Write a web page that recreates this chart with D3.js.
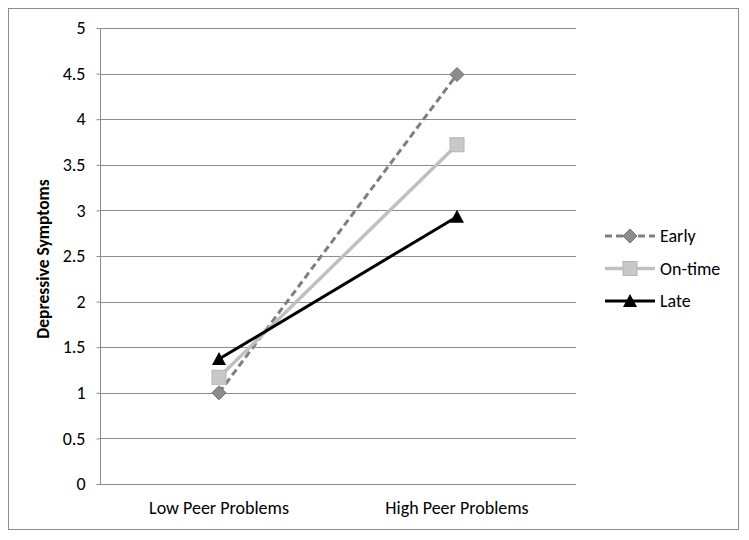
<!DOCTYPE html>
<html>
<head>
<meta charset="utf-8">
<script src="https://cdn.jsdelivr.net/npm/d3@7"></script>
<style>
  body { margin: 0; background: #fff; }
  text { font-family: Carlito, Lato, "Open Sans", sans-serif; fill: #000; }
</style>
</head>
<body>
<svg id="chart" width="749" height="540"></svg>
<script>
// Data
const categories = ['Low Peer Problems', 'High Peer Problems'];
const seriesNames = ['Early', 'On-time', 'Late'];
const early = [1.0, 4.49];
const onTime = [1.17, 3.72];
const late = [1.37, 2.93];
const yTicks = [0, 0.5, 1, 1.5, 2, 2.5, 3, 3.5, 4, 4.5, 5];

const seriesValues = [early, onTime, late];
const styles = [
    {color: '#7f7f7f', width: 3, dash: '7,4', marker: 'diamond'},
    {color: '#c0c0c0', width: 3.5, dash: null, marker: 'square'},
    {color: '#000000', width: 3, dash: null, marker: 'triangle'}
];

const svg = d3.select('#chart');

// outer frame
svg.append('rect')
    .attr('x', 8.5).attr('y', 8.5)
    .attr('width', 730).attr('height', 521)
    .attr('fill', 'none')
    .attr('stroke', '#8c8c8c')
    .attr('stroke-width', 1);

const plotLeft = 100, plotRight = 576, plotTop = 28, plotBottom = 484;

const x = d3.scaleBand()
    .domain(categories)
    .range([plotLeft, plotRight]);

const y = d3.scaleLinear()
    .domain([0, 5])
    .range([plotBottom, plotTop]);

// gridlines
svg.append('g')
    .selectAll('line')
    .data(yTicks.filter(t => t > 0))
    .enter()
    .append('line')
    .attr('x1', plotLeft).attr('x2', plotRight)
    .attr('y1', d => Math.round(y(d)) + 0.5)
    .attr('y2', d => Math.round(y(d)) + 0.5)
    .attr('stroke', '#8c8c8c')
    .attr('stroke-width', 1);

// y axis
const yAxis = svg.append('g')
    .attr('transform', `translate(${plotLeft + 0.5},0)`)
    .call(d3.axisLeft(y).tickValues(yTicks).tickSize(4).tickPadding(11).tickFormat(d => d));
yAxis.selectAll('path, line').attr('stroke', '#8c8c8c');
yAxis.select('path').attr('d', `M0,${plotBottom + 0.5}V${plotTop}`);
yAxis.selectAll('text').style('font-size', '18px');

// x axis
const xAxis = svg.append('g')
    .attr('transform', `translate(0,${plotBottom + 0.5})`)
    .call(d3.axisBottom(x).tickSize(0).tickPadding(17));
xAxis.select('path').attr('stroke', '#8c8c8c').attr('d', `M${plotLeft},0H${plotRight}`);
xAxis.selectAll('text').style('font-size', '18px');

// y axis title
svg.append('text')
    .attr('transform', `translate(49,${(plotTop + plotBottom) / 2 + 3}) rotate(-90)`)
    .attr('text-anchor', 'middle')
    .style('font-size', '17.5px')
    .style('font-weight', 'bold')
    .text('Depressive Symptoms');

const line = d3.line()
    .x((d, i) => x(categories[i]) + x.bandwidth() / 2)
    .y(d => y(d));

function drawMarker(g, type, cx, cy) {
    if (type === 'diamond') {
        g.append('path').attr('d', `M${cx},${cy - 7}L${cx + 7},${cy}L${cx},${cy + 7}L${cx - 7},${cy}Z`)
            .attr('fill', '#8c8c8c').attr('stroke', '#6e6e6e');
    } else if (type === 'square') {
        g.append('rect').attr('x', cx - 7).attr('y', cy - 7).attr('width', 14).attr('height', 14)
            .attr('fill', '#c8c8c8').attr('stroke', '#b4b4b4');
    } else {
        g.append('path').attr('d', `M${cx},${cy - 7}L${cx + 7},${cy + 6}L${cx - 7},${cy + 6}Z`)
            .attr('fill', '#000');
    }
}

// series lines and markers
seriesValues.forEach((vals, s) => {
    const st = styles[s];
    const g = svg.append('g');
    g.append('path')
        .datum(vals)
        .attr('d', line)
        .attr('fill', 'none')
        .attr('stroke', st.color)
        .attr('stroke-width', st.width)
        .attr('stroke-dasharray', st.dash);
    vals.forEach((v, i) => {
        drawMarker(g, st.marker, x(categories[i]) + x.bandwidth() / 2, y(v));
    });
});

// legend
const legend = svg.append('g').attr('transform', 'translate(605,236)');
seriesNames.forEach((name, s) => {
    const st = styles[s];
    const ly = s * 32.5;
    const lg = legend.append('g');
    lg.append('line')
        .attr('x1', 0).attr('x2', 50)
        .attr('y1', ly).attr('y2', ly)
        .attr('stroke', st.color)
        .attr('stroke-width', st.width)
        .attr('stroke-dasharray', st.dash);
    drawMarker(lg, st.marker, 25, ly);
    lg.append('text')
        .attr('x', 55).attr('y', ly + 6)
        .style('font-size', '18px')
        .text(name);
});
</script>
</body>
</html>
